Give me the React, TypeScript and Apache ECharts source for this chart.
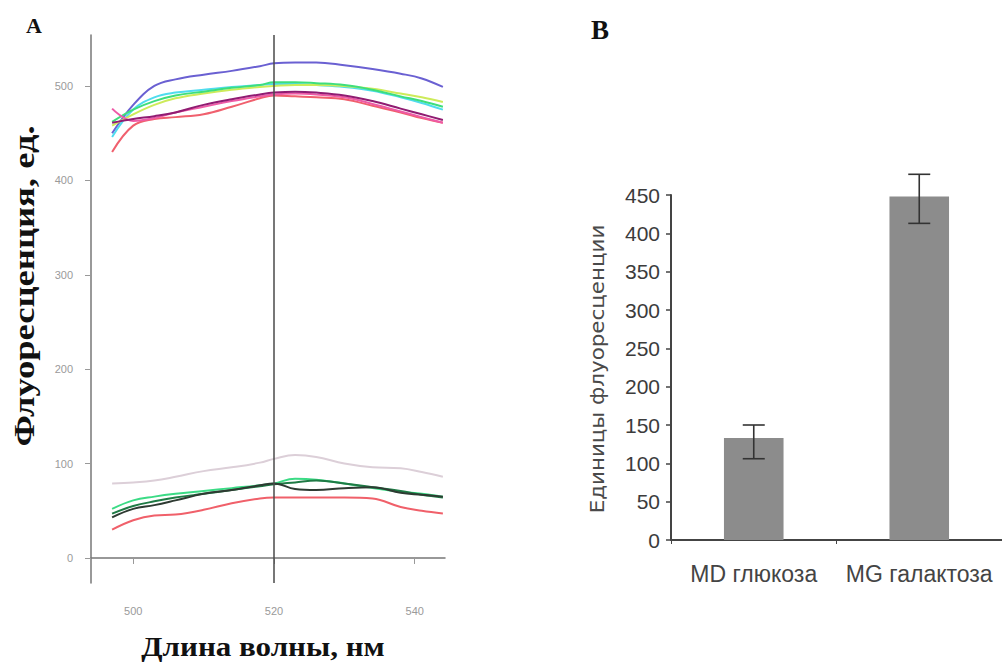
import React, { useEffect, useRef } from "react";
import * as echarts from "echarts";

// Panel A: spectra
const wavelengths = [497, 500, 503, 506, 510, 514, 518, 520, 523, 526, 530, 534, 538, 541, 544];
const blueLine = [450, 480, 500, 507, 512, 516, 521, 524, 525, 525, 522, 518, 513, 508, 499];
const cyanLine = [446, 475, 488, 493, 496, 499, 501, 502, 502, 501, 499, 495, 488, 482, 475];
const greenLine = [462, 475, 484, 490, 494, 498, 501, 504, 504, 503, 501, 496, 489, 484, 478];
const yellowLine = [458, 470, 480, 487, 492, 496, 499, 500, 501, 501, 500, 497, 492, 488, 483];
const magentaLine = [461, 465, 468, 472, 480, 486, 491, 493, 494, 493, 490, 484, 476, 470, 464];
const pinkLine = [476, 463, 466, 472, 478, 484, 489, 491, 492, 491, 488, 481, 473, 467, 461];
const salmonLine = [430, 458, 465, 467, 470, 478, 487, 490, 489, 488, 486, 479, 472, 466, 461];
const grayLow = [79, 80, 82, 86, 92, 96, 101, 105, 109, 107, 100, 96, 95, 91, 86];
const greenLow = [52, 61, 65, 68, 71, 74, 77, 79, 84, 83, 79, 74, 70, 68, 65];
const darkGreenLow = [47, 55, 60, 64, 68, 72, 76, 78, 80, 82, 79, 75, 71, 67, 64];
const blackLow = [43, 52, 56, 61, 68, 72, 77, 79, 73, 72, 74, 75, 69, 67, 65];
const redLow = [30, 40, 45, 46, 51, 58, 63, 64, 64, 64, 64, 63, 54, 50, 47];
const spectraYTicks = [0, 100, 200, 300, 400, 500];
const spectraXTicks = [500, 520, 540];
const markerWavelength = 520;

// Panel B: bars
const categories = ["MD глюкоза", "MG галактоза"];
const means = [133, 448];
const errLow = [106, 413];
const errHigh = [150, 477];

const spectra = [
  { name: "s1", values: blueLine, color: "#6a60d2" },
  { name: "s2", values: cyanLine, color: "#4fdcee" },
  { name: "s3", values: yellowLine, color: "#cdeb5a" },
  { name: "s4", values: greenLine, color: "#3ede7c" },
  { name: "s5", values: salmonLine, color: "#f0606e" },
  { name: "s6", values: pinkLine, color: "#ee5aa6" },
  { name: "s7", values: magentaLine, color: "#901c72" },
  { name: "s8", values: grayLow, color: "#dccfd8" },
  { name: "s9", values: redLow, color: "#f0606a" },
  { name: "s10", values: greenLow, color: "#3bdb85" },
  { name: "s11", values: darkGreenLow, color: "#1f7a45" },
  { name: "s12", values: blackLow, color: "#2e3a32" },
];

export default function App() {
  const ref = useRef<HTMLDivElement>(null);
  useEffect(() => {
    document.body.style.margin = "0";
    const chart = echarts.init(ref.current!, null, { renderer: "svg" });
    const lineSeries: any[] = spectra.map((s, i) => ({
      type: "line",
      name: s.name,
      xAxisIndex: 0,
      yAxisIndex: 0,
      data: wavelengths.map((w, k) => [w, s.values[k]]),
      smooth: 0.4,
      showSymbol: false,
      lineStyle: { color: s.color, width: 2 },
      itemStyle: { color: s.color },
      z: 3,
      ...(i === 0
        ? {
            markLine: {
              silent: true,
              symbol: "none",
              label: { show: false },
              lineStyle: { color: "#4a4a4a", width: 1.5, type: "solid" },
              data: [{ xAxis: markerWavelength }],
              z: 5,
            },
          }
        : {}),
    }));

    const serif = "'Liberation Serif', 'DejaVu Serif', serif";
    const sans = "'Liberation Sans', Arial, sans-serif";

    chart.setOption({
      animation: false,
      backgroundColor: "#ffffff",
      grid: [
        { left: 91, right: 557, top: 35, bottom: 80 },
        { left: 671, right: -8, top: 195, bottom: 123 },
      ],
      xAxis: [
        {
          type: "value",
          gridIndex: 0,
          min: 494,
          max: 544.3,
          splitLine: { show: false },
          axisLine: { show: true, lineStyle: { color: "#777", width: 1.5 } },
          axisTick: { show: true, length: 6, customValues: spectraXTicks, lineStyle: { color: "#999" } },
          axisLabel: {
            customValues: spectraXTicks,
            color: "#9a9a9a",
            fontSize: 11,
            margin: 22,
            fontFamily: sans,
          },
        },
        {
          type: "category",
          gridIndex: 1,
          data: categories,
          boundaryGap: true,
          axisLine: { show: true, lineStyle: { color: "#444", width: 2 } },
          axisTick: { show: true, length: 4, alignWithLabel: false, lineStyle: { color: "#444" } },
          axisLabel: {
            interval: 0,
            color: "#444",
            fontSize: 23,
            margin: 22,
            fontFamily: sans,
          },
        },
      ],
      yAxis: [
        {
          type: "value",
          gridIndex: 0,
          min: -26.5,
          max: 554,
          splitLine: { show: false },
          axisLine: { show: true, lineStyle: { color: "#777", width: 1.5 } },
          axisTick: { show: true, length: 6, customValues: spectraYTicks, lineStyle: { color: "#999" } },
          axisLabel: {
            customValues: spectraYTicks,
            color: "#9a9a9a",
            fontSize: 11,
            margin: 18,
            fontFamily: sans,
          },
        },
        {
          type: "value",
          gridIndex: 1,
          min: 0,
          max: 450,
          interval: 50,
          splitLine: { show: false },
          axisLine: { show: true, lineStyle: { color: "#444", width: 2 } },
          axisTick: { show: true, length: 5, lineStyle: { color: "#444", width: 1.5 } },
          axisLabel: {
            color: "#3c3c3c",
            fontSize: 21,
            margin: 11,
            fontFamily: sans,
          },
        },
      ],
      series: [
        ...lineSeries,
        {
          type: "bar",
          xAxisIndex: 1,
          yAxisIndex: 1,
          data: means,
          barWidth: "36%",
          itemStyle: { color: "#8c8c8c" },
          z: 2,
        },
        {
          type: "custom",
          xAxisIndex: 1,
          yAxisIndex: 1,
          data: categories.map((_, i) => [i, errLow[i], errHigh[i]]),
          z: 4,
          renderItem: (params: any, api: any) => {
            const idx = api.value(0);
            const lo = api.coord([idx, api.value(1)]);
            const hi = api.coord([idx, api.value(2)]);
            const half = 11;
            const style = { stroke: "#333", lineWidth: 1.6, fill: "none" };
            return {
              type: "group",
              children: [
                { type: "line", shape: { x1: lo[0], y1: lo[1], x2: hi[0], y2: hi[1] }, style },
                { type: "line", shape: { x1: lo[0] - half, y1: lo[1], x2: lo[0] + half, y2: lo[1] }, style },
                { type: "line", shape: { x1: hi[0] - half, y1: hi[1], x2: hi[0] + half, y2: hi[1] }, style },
              ],
            };
          },
        },
      ],
      graphic: [
        {
          type: "text",
          left: 26,
          top: 14,
          style: { text: "A", font: `bold 22px ${serif}`, fill: "#111" },
        },
        {
          type: "text",
          left: 591,
          top: 16,
          style: { text: "B", font: `bold 27px ${serif}`, fill: "#111" },
        },
        {
          type: "text",
          x: 24,
          y: 286,
          rotation: Math.PI / 2,
          scaleX: 1.22,
          style: {
            text: "Флуоресценция, ед.",
            font: `bold 30px ${serif}`,
            fill: "#111",
            align: "center",
            verticalAlign: "middle",
            textAlign: "center",
            textVerticalAlign: "middle",
          },
        },
        {
          type: "text",
          x: 263,
          y: 647,
          scaleX: 1.15,
          style: {
            text: "Длина волны, нм",
            font: `bold 27px ${serif}`,
            fill: "#111",
            align: "center",
            verticalAlign: "middle",
            textAlign: "center",
            textVerticalAlign: "middle",
          },
        },
        {
          type: "text",
          x: 597,
          y: 369,
          rotation: Math.PI / 2,
          scaleX: 1.07,
          style: {
            text: "Единицы флуоресценции",
            font: `20px 'DejaVu Sans', sans-serif`,
            fill: "#4a4a4a",
            align: "center",
            verticalAlign: "middle",
            textAlign: "center",
            textVerticalAlign: "middle",
          },
        },
      ],
    });
    return () => chart.dispose();
  }, []);
  return <div ref={ref} style={{ width: 1002, height: 663, position: "absolute", left: 0, top: 0 }} />;
}
